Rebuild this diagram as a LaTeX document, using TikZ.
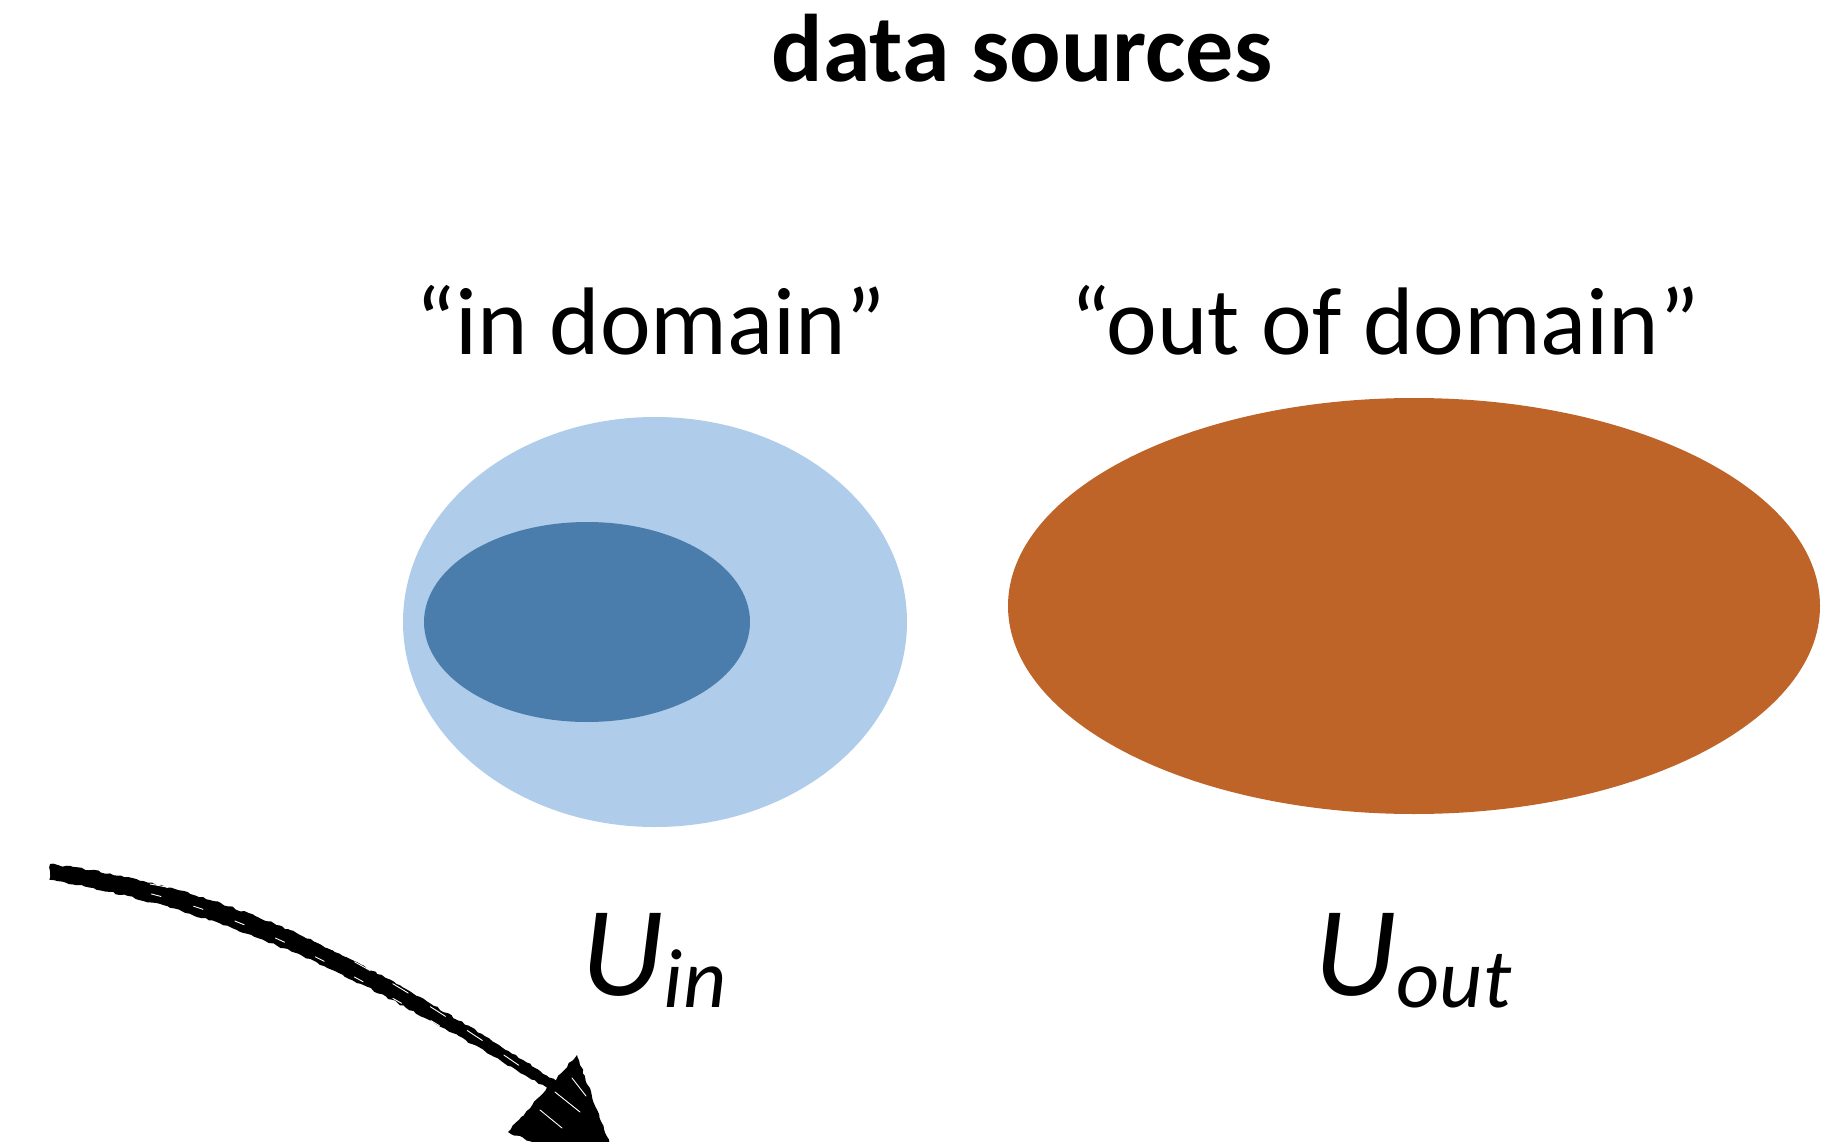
\documentclass[tikz,border=0pt]{standalone}
\usepackage{fontspec}
\setmainfont{Carlito}
\usetikzlibrary{decorations.pathmorphing}
\definecolor{lightblue}{HTML}{AFCDEA}
\definecolor{darkblue}{HTML}{4A7DAC}
\definecolor{burnt}{HTML}{BE6428}
\begin{document}
\begin{tikzpicture}[x=1pt,y=-1pt,
  heading/.style={anchor=base,inner sep=0pt,font=\fontsize{96}{96}\selectfont\bfseries},
  grouplabel/.style={anchor=base,inner sep=0pt,font=\fontsize{96}{96}\selectfont},
  setlabel/.style={anchor=base,inner sep=0pt,font=\fontsize{128}{128}\selectfont\itshape},
  brush/.style={black,decorate,decoration={random steps,segment length=4pt,amplitude=1pt}},
  streak/.style={white,line width=0.9pt,line cap=round}]
\useasboundingbox (0,0) rectangle (1840,1142);

% title
\node[heading] (title) at (1022,82) {data sources};

% group captions
\node[grouplabel] (indom) at (651,354) {“in domain”};
\node[grouplabel] (outdom) at (1385,354) {“out of domain”};

% in-domain set with its subset
\fill[lightblue] (655,622) ellipse [x radius=252, y radius=205];
\fill[darkblue] (587,622) ellipse [x radius=163, y radius=100];

% out-of-domain set
\fill[burnt] (1414,606) ellipse [x radius=406, y radius=208];

% set names
\node[setlabel] (lin) at (654,995) {U\raisebox{-12pt}{\fontsize{84}{84}\selectfont in}};
\node[setlabel] (lout) at (1413,995) {U\raisebox{-12pt}{\fontsize{84}{84}\selectfont out}};

% brush-stroke arrow: tapered shaft, widest near its start
\coordinate (astart) at (52,871);
\coordinate (aend) at (552,1085);
\fill[brush] (50,864) .. controls (252,890) and (384,972) .. (556,1081)
  -- (549,1089) .. controls (376,987) and (246,914) .. (50,880) -- cycle;
% dry-brush streaks in the shaft
\draw[streak, dash pattern=on 18pt off 26pt] (150,884) .. controls (260,902) and (380,968) .. (540,1080);
\draw[streak, dash pattern=on 10pt off 34pt, dash phase=12pt] (120,887) .. controls (240,910) and (370,978) .. (530,1083);
% arrowhead with a few dry-brush streaks
\fill[brush] (577,1055) -- (508,1132) -- (622,1178) -- cycle;
\draw[streak] (555,1092) -- (580,1112);
\draw[streak] (540,1110) -- (562,1128);
\draw[streak] (572,1078) -- (586,1096);
\end{tikzpicture}
\end{document}
